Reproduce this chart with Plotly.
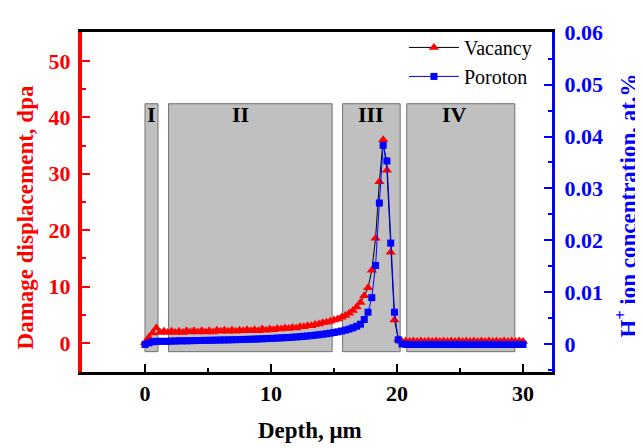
import plotly.graph_objects as go

depth = [0.0, 0.3, 0.6, 0.9, 1.2, 1.5, 1.8, 2.1, 2.4, 2.7,
         3.0, 3.3, 3.6, 3.9, 4.2, 4.5, 4.8, 5.1, 5.4, 5.7,
         6.0, 6.3, 6.6, 6.9, 7.2, 7.5, 7.8, 8.1, 8.4, 8.7,
         9.0, 9.3, 9.6, 9.9, 10.2, 10.5, 10.8, 11.1, 11.4, 11.7,
         12.0, 12.3, 12.6, 12.9, 13.2, 13.5, 13.8, 14.1, 14.4, 14.7,
         15.0, 15.3, 15.6, 15.9, 16.2, 16.5, 16.8, 17.1, 17.4, 17.7,
         18.0, 18.3, 18.6, 18.9, 19.2, 19.5, 19.8, 20.1, 20.4, 20.7,
         21.0, 21.3, 21.6, 21.9, 22.2, 22.5, 22.8, 23.1, 23.4, 23.7,
         24.0, 24.3, 24.6, 24.9, 25.2, 25.5, 25.8, 26.1, 26.4, 26.7,
         27.0, 27.3, 27.6, 27.9, 28.2, 28.5, 28.8, 29.1, 29.4, 29.7,
         30.0]

vacancy = [0.1, 1.0, 1.8, 2.7, 1.9, 2.1, 1.9, 2.1, 1.9, 2.1,
           1.9, 2.2, 2.0, 2.2, 2.0, 2.2, 2.0, 2.2, 2.0, 2.3,
           2.1, 2.3, 2.1, 2.3, 2.1, 2.3, 2.2, 2.4, 2.2, 2.4,
           2.2, 2.5, 2.3, 2.5, 2.4, 2.6, 2.5, 2.7, 2.6, 2.8,
           2.7, 2.9, 2.9, 3.1, 3.1, 3.3, 3.4, 3.6, 3.7, 3.9,
           4.1, 4.3, 4.6, 4.9, 5.3, 5.8, 6.4, 7.2, 8.4, 9.8,
           12.9, 18.6, 28.6, 36.0, 30.6, 16.1, 4.1, 0.7, 0.3, 0.4,
           0.3, 0.4, 0.3, 0.4, 0.3, 0.4, 0.3, 0.4, 0.3, 0.4,
           0.3, 0.4, 0.3, 0.4, 0.3, 0.4, 0.3, 0.4, 0.3, 0.4,
           0.3, 0.4, 0.3, 0.4, 0.3, 0.4, 0.3, 0.4, 0.3, 0.4,
           0.3]

proton = [0.0, 0.0003, 0.0005, 0.0006, 0.0006, 0.0006, 0.0006, 0.00065, 0.00065, 0.0007,
          0.0007, 0.0007, 0.00072, 0.00074, 0.00075, 0.00077, 0.00078, 0.0008, 0.00081, 0.00083,
          0.00085, 0.00086, 0.00088, 0.0009, 0.00092, 0.00094, 0.00096, 0.00098, 0.001, 0.00103,
          0.00106, 0.00109, 0.00112, 0.00115, 0.00118, 0.00122, 0.00126, 0.0013, 0.00134, 0.00139,
          0.00144, 0.0015, 0.00156, 0.00163, 0.0017, 0.00178, 0.00187, 0.00196, 0.00206, 0.00217,
          0.0023, 0.00243, 0.00258, 0.00275, 0.00295, 0.0032, 0.0035, 0.0039, 0.0048, 0.0062,
          0.009, 0.0152, 0.0272, 0.0383, 0.0353, 0.0195, 0.0062, 0.0009, 0.0001, 0.0,
          0.0, 0.0, 0.0, 0.0, 0.0, 0.0, 0.0, 0.0, 0.0, 0.0,
          0.0, 0.0, 0.0, 0.0, 0.0, 0.0, 0.0, 0.0, 0.0, 0.0,
          0.0, 0.0, 0.0, 0.0, 0.0, 0.0, 0.0, 0.0, 0.0, 0.0,
          0.0]

region_names = ["I", "II", "III", "IV"]
region_x0 = [0.0, 1.87, 15.68, 20.77]
region_x1 = [1.03, 14.85, 20.25, 29.35]
region_label_x = [0.55, 7.6, 17.9, 24.6]
region_y0 = -1.5
region_y1 = 42.4
region_label_y = 40.5

left_ticks = [0, 10, 20, 30, 40, 50]
right_ticks = [0, 0.01, 0.02, 0.03, 0.04, 0.05, 0.06]
right_tick_text = ["0", "0.01", "0.02", "0.03", "0.04", "0.05", "0.06"]
x_ticks = [0, 10, 20, 30]

SERIF = "Liberation Serif, Times New Roman, serif"

fig = go.Figure()

fig.add_trace(go.Scatter(
    x=depth, y=vacancy, name="Vacancy", mode="lines+markers",
    line=dict(color="black", width=1),
    marker=dict(symbol="triangle-up", color="#ff0000", size=9, line=dict(width=0)),
    yaxis="y"))

fig.add_trace(go.Scatter(
    x=depth, y=proton, name="Poroton", mode="lines+markers",
    line=dict(color="#0000ff", width=1),
    marker=dict(symbol="square", color="#0000ff", size=7, line=dict(width=0)),
    yaxis="y2"))

for name, x0, x1, lx in zip(region_names, region_x0, region_x1, region_label_x):
    fig.add_shape(type="rect", xref="x", yref="y", x0=x0, x1=x1,
                  y0=region_y0, y1=region_y1, layer="below",
                  fillcolor="#c0c0c0", line=dict(color="#707070", width=1))
    fig.add_annotation(x=lx, y=region_label_y, xref="x", yref="y", text=f"<b>{name}</b>",
                       showarrow=False, font=dict(family=SERIF, size=22, color="black"))

fig.update_layout(
    width=635, height=440,
    margin=dict(l=74, r=91, t=12, b=76),
    paper_bgcolor="white", plot_bgcolor="white",
    showlegend=True,
    legend=dict(x=0.685, y=1.012, xanchor="left", yanchor="top",
                bgcolor="rgba(0,0,0,0)", itemwidth=50,
                font=dict(family=SERIF, size=20, color="black")),
    xaxis=dict(range=[-5, 32.3], tickvals=x_ticks, showgrid=False, zeroline=False,
               showline=True, linecolor="black", linewidth=3, mirror=True,
               ticks="inside", ticklen=8, tickwidth=2, tickcolor="black",
               minor=dict(dtick=5, ticks="inside", ticklen=4, tickwidth=2, tickcolor="black"),
               tickfont=dict(family=SERIF, size=22, color="black", weight="bold"),
               ticklabelstandoff=0),
    yaxis=dict(range=[-5.1, 55.1], tickvals=left_ticks, showgrid=False, zeroline=False,
               showline=True, linecolor="#ff0000", linewidth=4,
               ticks="inside", ticklen=8, tickwidth=2, tickcolor="#ff0000",
               minor=dict(dtick=5, ticks="inside", ticklen=4, tickwidth=2, tickcolor="#ff0000"),
               tickfont=dict(family=SERIF, size=22, color="#ff0000", weight="bold"),
               ticklabelstandoff=3),
    yaxis2=dict(range=[-0.0053, 0.0601], tickvals=right_ticks, ticktext=right_tick_text,
                overlaying="y", side="right", showgrid=False, zeroline=False,
                showline=True, linecolor="#0000ff", linewidth=3,
                ticks="inside", ticklen=8, tickwidth=2, tickcolor="#0000ff",
                minor=dict(dtick=0.005, ticks="inside", ticklen=4, tickwidth=2, tickcolor="#0000ff"),
                tickfont=dict(family=SERIF, size=22, color="#0000ff", weight="bold"),
                ticklabelstandoff=5),
)

fig.add_annotation(x=-0.121, y=0.455, xref="paper", yref="paper", textangle=-90,
                   xanchor="center", yanchor="middle",
                   text="<b>Damage displacement, dpa</b>", showarrow=False,
                   font=dict(family=SERIF, size=23, color="#ff0000"))
fig.add_annotation(x=1.159, y=0.489, xref="paper", yref="paper", textangle=-90,
                   xanchor="center", yanchor="middle",
                   text="<b>H<sup>+</sup> ion concentration, at.%</b>", showarrow=False,
                   font=dict(family=SERIF, size=23, color="#0000ff"))
fig.add_annotation(x=0.485, y=-0.173, xref="paper", yref="paper",
                   xanchor="center", yanchor="middle",
                   text="<b>Depth, μm</b>", showarrow=False,
                   font=dict(family=SERIF, size=23, color="black"))

fig.write_html("out.html")
